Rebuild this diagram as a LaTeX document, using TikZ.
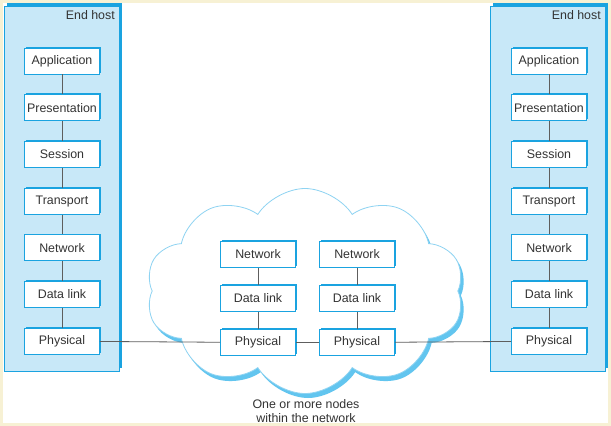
\documentclass[tikz,border=0pt]{standalone}
\usepackage{fontspec}
\setmainfont{Liberation Sans}
\usetikzlibrary{positioning,shapes.symbols,shadows}

\definecolor{cream}{HTML}{F7F1D4}
\definecolor{hostfill}{HTML}{C8E8F8}
\definecolor{boxline}{HTML}{1AA3E0}
\definecolor{cloudline}{HTML}{8ED3F2}
\definecolor{cloudshade}{HTML}{62C5EF}
\definecolor{linkgray}{HTML}{5E5E5E}
\definecolor{txt}{HTML}{333333}

\begin{document}
\begin{tikzpicture}[x=1pt, y=-1pt,
        layer/.style={rectangle, draw=boxline, line width=0.9pt, fill=white, text=txt,
        minimum width=75pt, minimum height=26pt, inner sep=0pt, font=\fontsize{12.4}{14}\selectfont,
        drop shadow={shadow xshift=1.3pt, shadow yshift=1.3pt, fill=boxline, opacity=1}},
        host/.style={rectangle, draw=boxline, line width=0.9pt, fill=hostfill,
        minimum width=115pt, minimum height=365pt, inner sep=0pt,
        drop shadow={shadow xshift=2.6pt, shadow yshift=2.6pt, fill=boxline, opacity=1}},
        hostname/.style={anchor=north east, text=txt, inner sep=0pt, font=\fontsize{12.4}{14}\selectfont},
        netcloud/.style={cloud, cloud puffs=10, cloud puff arc=115, aspect=1.6, minimum width=318pt, minimum height=205pt,
        fill=white, draw=cloudline, line width=0.8pt,
        drop shadow={shadow xshift=3pt, shadow yshift=-4.5pt, fill=cloudshade, opacity=1}},
        link/.style={draw=linkgray, line width=0.8pt},
        node distance=19.8pt]

        % page and margins
        \useasboundingbox (0,0) rectangle (611,426);
        \fill[cream] (0,0) rectangle (611,426);
        \fill[white] (3,3) rectangle (608,423);

        % the two end hosts
        \node (hostL) [host] at (61.5,188.5) {};
        \node (hostR) [host] at (547.5,188.5) {};
        \node (hostLname) [hostname] at (115,10) {End host};
        \node (hostRname) [hostname] at (601,10) {End host};

        % the network
        \node (cloud) [netcloud] at (305,291) {};
        \node (cloudtext) [align=center, text=txt, font=\fontsize{12.4}{14}\selectfont] at (306,411)
        {One or more nodes\\within the network};

        % left stack
        \node (appL) [layer] at (62,61) {Application};
        \node (presL) [layer, below=of appL] {Presentation};
        \node (sessL) [layer, below=of presL] {Session};
        \node (transL) [layer, below=of sessL] {Transport};
        \node (netL) [layer, below=of transL] {Network};
        \node (dlL) [layer, below=of netL] {Data link};
        \node (phyL) [layer, below=of dlL] {Physical};

        % right stack
        \node (appR) [layer] at (549,61) {Application};
        \node (presR) [layer, below=of appR] {Presentation};
        \node (sessR) [layer, below=of presR] {Session};
        \node (transR) [layer, below=of sessR] {Transport};
        \node (netR) [layer, below=of transR] {Network};
        \node (dlR) [layer, below=of netR] {Data link};
        \node (phyR) [layer, below=of dlR] {Physical};

        % nodes inside the network
        \node (netA) [layer] at (258,254.5) {Network};
        \node (dlA) [layer, below=17.1pt of netA] {Data link};
        \node (phyA) [layer, below=17.1pt of dlA] {Physical};
        \node (netB) [layer] at (357,254.5) {Network};
        \node (dlB) [layer, below=17.1pt of netB] {Data link};
        \node (phyB) [layer, below=17.1pt of dlB] {Physical};

        \draw[link] (appL) -- (presL);
        \draw[link] (presL) -- (sessL);
        \draw[link] (sessL) -- (transL);
        \draw[link] (transL) -- (netL);
        \draw[link] (netL) -- (dlL);
        \draw[link] (dlL) -- (phyL);

        \draw[link] (appR) -- (presR);
        \draw[link] (presR) -- (sessR);
        \draw[link] (sessR) -- (transR);
        \draw[link] (transR) -- (netR);
        \draw[link] (netR) -- (dlR);
        \draw[link] (dlR) -- (phyR);

        \draw[link] (netA) -- (dlA);
        \draw[link] (dlA) -- (phyA);
        \draw[link] (netB) -- (dlB);
        \draw[link] (dlB) -- (phyB);

        \draw[link] (phyL) -- (phyA);
        \draw[link] (phyA) -- (phyB);
        \draw[link] (phyB) -- (phyR);
    \end{tikzpicture}
\end{document}
